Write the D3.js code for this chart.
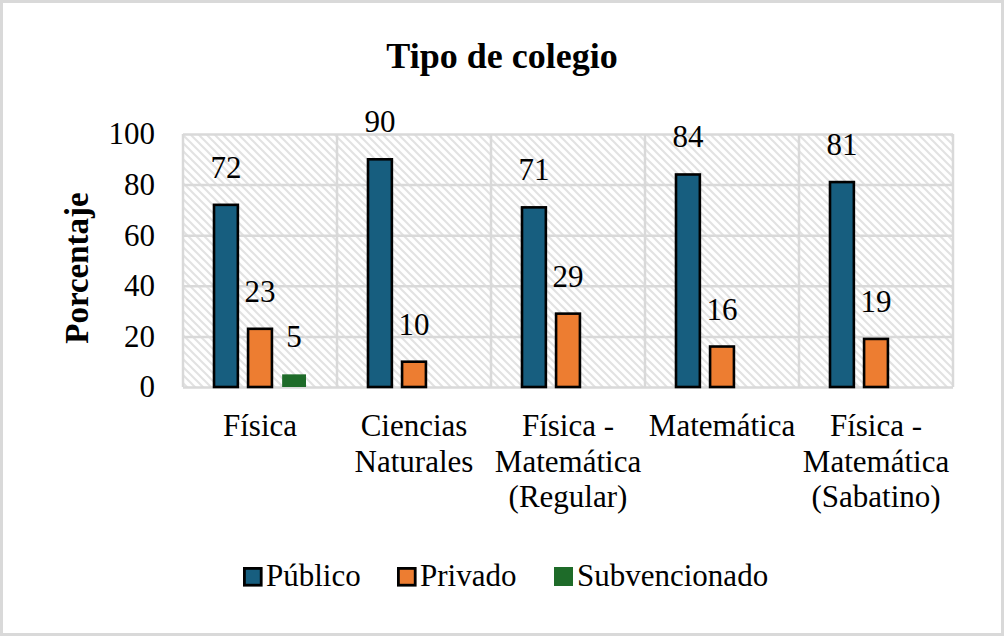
<!DOCTYPE html>
<html>
<head>
<meta charset="utf-8">
<script src="https://cdn.jsdelivr.net/npm/d3@7"></script>
<style>
  body { margin: 0; background: #fff; }
  text { font-family: "Liberation Serif", "Times New Roman", serif; fill: #000; }
</style>
</head>
<body>
<div id="chart-area"></div>
<script>
// data
var categories = [
    ["Física"],
    ["Ciencias", "Naturales"],
    ["Física -", "Matemática", "(Regular)"],
    ["Matemática"],
    ["Física -", "Matemática", "(Sabatino)"]
]
var series = ["Público", "Privado", "Subvencionado"]
var publico = [72, 90, 71, 84, 81]
var privado = [23, 10, 29, 16, 19]
var subvencionado = [5, null, null, null, null]
var yTicks = [0, 20, 40, 60, 80, 100]

var colors = ["#175e7f", "#ed7d31", "#1e6b29"]
var values = [publico, privado, subvencionado]

var W = 1005, H = 637
var plotL = 183, plotR = 953, plotT = 134, plotB = 387

var svg = d3.select("#chart-area").append("svg")
    .attr("width", W)
    .attr("height", H)

// hatch pattern for the plot area
var pat = svg.append("defs").append("pattern")
    .attr("id", "hatch")
    .attr("patternUnits", "userSpaceOnUse")
    .attr("width", 8)
    .attr("height", 8)
pat.append("rect").attr("width", 8).attr("height", 8).attr("fill", "#fff")
pat.append("path")
    .attr("d", "M-2,-2 L10,10 M-2,6 L2,10 M6,-2 L10,2")
    .attr("stroke", "#e2e2e2")
    .attr("stroke-width", 2)

// outer frame
svg.append("rect")
    .attr("x", 1.5).attr("y", 1.5)
    .attr("width", W - 4).attr("height", H - 4)
    .attr("fill", "#fff")
    .attr("stroke", "#d9d9d9")
    .attr("stroke-width", 3)

var idx = d3.range(categories.length)

var x0 = d3.scaleBand()
    .domain(idx)
    .range([plotL, plotR])
    .padding(0)

var x1 = d3.scaleBand()
    .domain(d3.range(series.length))
    .range([0, x0.bandwidth()])
    .paddingInner(0.3)
    .paddingOuter(0.91)

var y = d3.scaleLinear()
    .domain([0, 100])
    .range([plotB, plotT])

// plot background
svg.append("rect")
    .attr("x", plotL).attr("y", plotT)
    .attr("width", plotR - plotL).attr("height", plotB - plotT)
    .attr("fill", "url(#hatch)")

// horizontal grid
var gy = svg.append("g")
    .attr("transform", "translate(" + plotL + ",0)")
    .call(d3.axisLeft(y).tickValues(yTicks).tickSize(-(plotR - plotL)).tickFormat(""))
gy.select(".domain").remove()
gy.selectAll("line").attr("stroke", "#d9d9d9").attr("stroke-width", 2.5)

// vertical grid at category boundaries
svg.append("g").selectAll("line")
    .data(idx.concat([categories.length]))
    .enter()
    .append("line")
    .attr("x1", function(d){ return d < categories.length ? x0(d) : plotR })
    .attr("x2", function(d){ return d < categories.length ? x0(d) : plotR })
    .attr("y1", plotT)
    .attr("y2", plotB)
    .attr("stroke", "#d9d9d9")
    .attr("stroke-width", 2.5)

// y tick labels
var ay = svg.append("g")
    .attr("transform", "translate(" + plotL + ",0)")
    .call(d3.axisLeft(y).tickValues(yTicks).tickSize(0).tickPadding(28))
ay.select(".domain").remove()
ay.selectAll("text")
    .style("font-family", "Liberation Serif")
    .style("font-size", "31px")
    .attr("fill", "#000")

// bars
var groups = svg.append("g").selectAll("g")
    .data(idx)
    .enter()
    .append("g")
    .attr("transform", function(d){ return "translate(" + x0(d) + ",0)" })

function cells(c){
    return series.map(function(s, j){ return {s: j, v: values[j][c]} })
        .filter(function(d){ return d.v != null })
}

groups.selectAll("rect")
    .data(cells)
    .enter()
    .append("rect")
    .attr("x", function(d){ return x1(d.s) })
    .attr("y", function(d){ return y(d.v) })
    .attr("width", x1.bandwidth())
    .attr("height", function(d){ return y(0) - y(d.v) })
    .attr("fill", function(d){ return colors[d.s] })
    .attr("stroke", function(d){ return d.s == 2 ? "none" : "#000" })
    .attr("stroke-width", 2.6)

groups.selectAll(".lbl")
    .data(cells)
    .enter()
    .append("text")
    .attr("class", "lbl")
    .attr("x", function(d){ return x1(d.s) + x1.bandwidth() / 2 })
    .attr("y", function(d){ return y(d.v) - 27 })
    .attr("text-anchor", "middle")
    .style("font-size", "31px")
    .text(function(d){ return d.v })

// category labels
svg.append("g").selectAll("text")
    .data(idx)
    .enter()
    .append("text")
    .attr("text-anchor", "middle")
    .style("font-size", "31px")
    .attr("transform", function(d){ return "translate(" + (x0(d) + x0.bandwidth() / 2) + ",436)" })
    .selectAll("tspan")
    .data(function(d){ return categories[d] })
    .enter()
    .append("tspan")
    .attr("x", 0)
    .attr("y", function(d, i){ return i * 35.5 })
    .text(function(d){ return d })

// title
svg.append("text")
    .attr("x", 502)
    .attr("y", 68)
    .attr("text-anchor", "middle")
    .style("font-size", "36px")
    .style("font-weight", "bold")
    .text("Tipo de colegio")

// y axis title
svg.append("text")
    .attr("transform", "translate(88,268) rotate(-90)")
    .attr("text-anchor", "middle")
    .style("font-size", "33px")
    .style("font-weight", "bold")
    .text("Porcentaje")

// legend
var legX = [243, 397, 554]
var leg = svg.append("g").selectAll("g")
    .data(series)
    .enter()
    .append("g")
    .attr("transform", function(d, i){ return "translate(" + legX[i] + ",567)" })

leg.append("rect")
    .attr("x", function(d, i){ return i == 2 ? 0 : 1.4 })
    .attr("y", function(d, i){ return i == 2 ? 0 : 1.4 })
    .attr("width", function(d, i){ return i == 2 ? 19 : 16.8 })
    .attr("height", function(d, i){ return i == 2 ? 19 : 16.8 })
    .attr("fill", function(d, i){ return colors[i] })
    .attr("stroke", function(d, i){ return i == 2 ? "none" : "#000" })
    .attr("stroke-width", 2.8)

leg.append("text")
    .attr("x", 23)
    .attr("y", 19)
    .style("font-size", "31px")
    .text(function(d){ return d })
</script>
</body>
</html>
